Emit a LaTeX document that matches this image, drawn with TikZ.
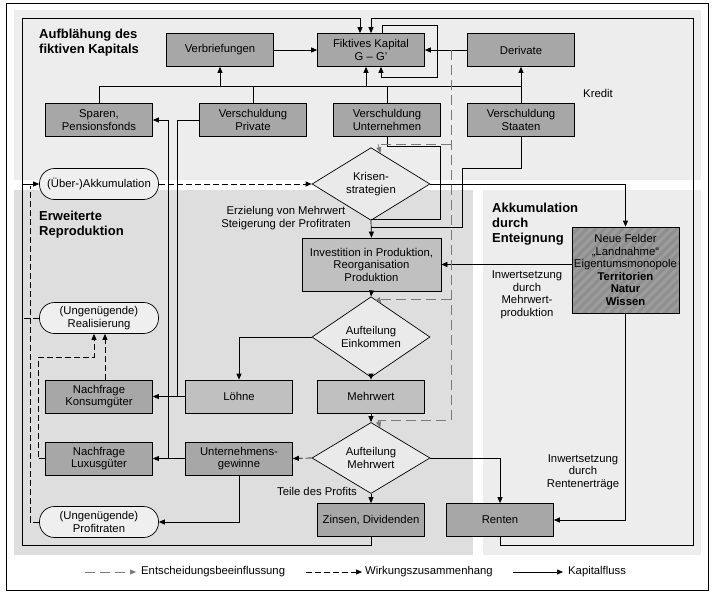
\documentclass[tikz,border=0pt]{standalone}
\usepackage{fontspec}
\setmainfont{Liberation Sans}
\usetikzlibrary{arrows.meta,shapes.geometric,calc}

\definecolor{boxdunkel}{HTML}{A7A7A7}
\definecolor{boxhell}{HTML}{C0C0C0}
\definecolor{felderfill}{HTML}{8E8E8E}
\definecolor{rautefill}{HTML}{EAEAEA}
\definecolor{rundfill}{HTML}{EFEFEF}
\definecolor{flaechehell}{HTML}{EDEDED}
\definecolor{flaechedunkel}{HTML}{DEDEDE}
\definecolor{strichgrau}{HTML}{7A7A7A}

\tikzset{
  kasten/.style={draw, line width=0.7pt, fill=boxdunkel, minimum width=107pt, minimum height=33pt, align=center, inner sep=1pt},
  kastenhell/.style={kasten, fill=boxhell},
  felder/.style={kasten, fill=felderfill, minimum height=86pt, path picture={
    \foreach \i in {-110,-101,...,110}
      \draw[white, opacity=0.13, line width=3pt] ($(path picture bounding box.south west)+(\i,0)$) -- ++(110,-110);
  }},
  raute/.style={diamond, draw, line width=0.7pt, fill=rautefill, minimum width=118pt, minimum height=53pt, inner sep=0pt, align=center},
  rund/.style={draw, line width=0.7pt, fill=rundfill, rounded corners=15pt, minimum width=119pt, minimum height=31pt, align=center, inner sep=1pt},
  fluss/.style={line width=0.7pt, -{Triangle[length=6pt,width=5pt]}},
  wirkung/.style={fluss, dash pattern=on 6pt off 3pt},
  wirklinie/.style={line width=0.7pt, dash pattern=on 6pt off 3pt},
  entsch/.style={line width=0.7pt, draw=strichgrau, dash pattern=on 10pt off 5pt, -{Triangle[length=6pt,width=5pt]}},
  entschlinie/.style={line width=0.7pt, draw=strichgrau, dash pattern=on 10pt off 5pt},
  entschspitze/.style={line width=0.7pt, draw=strichgrau, -{Triangle[length=6pt,width=5pt]}},
  titel/.style={font=\fontsize{13}{15}\selectfont\bfseries, align=left, anchor=west, inner sep=0pt},
  notiz/.style={align=center, inner sep=0pt}
}

\begin{document}
\begin{tikzpicture}[x=1pt, y=-1pt, font=\fontsize{11.3}{12.5}\selectfont]
\useasboundingbox (0,0) rectangle (718,597);

% Flaechen
\fill[flaechehell] (14,10) rectangle (701,180);
\fill[flaechedunkel] (14,190) rectangle (473,555);
\fill[flaechehell] (483,190) rectangle (701,555);
\draw[line width=0.7pt] (6,3) rectangle (708,590);

% Kaesten
\node[kasten] (verbr) at (220,50) {Verbriefungen};
\node[kasten] (fiktiv) at (371,50) {Fiktives Kapital\\G – G'};
\node[kasten] (deriv) at (521,50) {Derivate};
\node[kasten] (sparen) at (99,120) {Sparen,\\Pensionsfonds};
\node[kasten] (vprivat) at (253,120) {Verschuldung\\Private};
\node[kasten] (vunter) at (387,120) {Verschuldung\\Unternehmen};
\node[kasten] (vstaat) at (521,120) {Verschuldung\\Staaten};

\node[rund] (ueber) at (99,184) {(Über-)Akkumulation};
\node[raute] (krise) at (371,184) {Krisen-\\strategien};
\node[kastenhell, minimum width=139pt, minimum height=53pt] (invest) at (371.5,264.5) {Investition in Produktion,\\Reorganisation\\Produktion};
\node[felder] (neu) at (625.5,270) {Neue Felder\\„Landnahme“\\Eigentumsmonopole\\\textbf{Territorien}\\\textbf{Natur}\\\textbf{Wissen}};

\node[rund] (real) at (99,318) {(Ungenügende)\\Realisierung};
\node[raute] (einkommen) at (371,337) {Aufteilung\\Einkommen};
\node[kasten] (konsum) at (99,396.5) {Nachfrage\\Konsumgüter};
\node[kastenhell] (loehne) at (239,396.5) {Löhne};
\node[kastenhell] (mehrwert) at (371,396.5) {Mehrwert};
\node[kasten] (luxus) at (99,458.5) {Nachfrage\\Luxusgüter};
\node[kasten] (gewinne) at (239,458.5) {Unternehmens-\\gewinne};
\node[raute] (aufmw) at (371,458) {Aufteilung\\Mehrwert};
\node[rund] (profit) at (99,522) {(Ungenügende)\\Profitraten};
\node[kasten] (zinsen) at (371,520) {Zinsen, Dividenden};
\node[kasten] (renten) at (500,520) {Renten};

% Kredit und fiktives Kapital
\coordinate (k1) at (99,86);
\coordinate (k2) at (521,86);
\coordinate (fs1) at ($(fiktiv.south)+(-5,0)$);
\draw[fluss] (verbr) -- (fiktiv);
\draw[fluss] (deriv) -- (fiktiv);
\draw[line width=0.7pt] (sparen.north) -- (sparen.north |- k1) -- (k2);
\draw[line width=0.7pt] (vprivat.north) -- (vprivat.north |- k1);
\draw[line width=0.7pt] (vunter.north) -- (vunter.north |- k1);
\draw[fluss] (vstaat.north) -- (deriv.south);
\draw[fluss] (verbr.south |- k1) -- (verbr.south);
\draw[fluss] (fs1 |- k1) -- (fs1);
\draw[fluss] ($(fiktiv.north)+(11,0)$) -- ++(0,-8) -| (437,77) -| ($(fiktiv.south)+(10,0)$);

% Rueckfluss
\draw[fluss] (zinsen.south) -- ++(0,8) -| (22,18) -| ($(fiktiv.north)+(-11,0)$);
\draw[fluss] (renten.south) -- ++(0,8) -| (693,18) -| (fiktiv.north);
\draw[fluss] (22,184) -- (ueber.west);

% Krisenstrategien
\draw[wirkung] (ueber) -- (krise);
\draw[fluss] (krise.south) -- (invest.north);
\draw[line width=0.7pt] (vunter.south) -- ++(0,9) -| (440,219) -- (371,219);
\draw[line width=0.7pt] (vstaat.south) -- ++(0,31) -| (462,227) -- (371,227);
\draw[fluss] (krise.east) -| (neu.north);
\draw[fluss] (neu.west |- invest.east) -- (invest.east);
\draw[fluss] (neu.south) |- (renten.east);

% Entscheidungen
\coordinate (e1) at (378,144);
\coordinate (e2) at (378,299);
\coordinate (e3) at (378,420);
\draw[entschlinie] (451,50) -- (451,420) -- (e3);
\draw[entschlinie] (451,144) -- (e1);
\draw[entschlinie] (451,299) -- (e2);
\draw[entschspitze] (e1) -- (krise.73);
\draw[entschspitze] (e2) -- (einkommen.73);
\draw[entschspitze] (e3) -- (aufmw.73);

% Verteilung
\draw[fluss] (invest.south) -- (einkommen.north);
\draw[fluss] (einkommen.south) -- (mehrwert.north);
\draw[fluss] (einkommen.west) -| (loehne.north);
\draw[fluss] (mehrwert.south) -- (aufmw.north);
\draw[fluss] (aufmw.south) -- (zinsen.north);
\draw[fluss] (aufmw.east) -| (renten.north);
\draw[wirkung] (aufmw.west) -- (gewinne.east);

\draw[fluss] (loehne.west) -- (konsum.east);
\draw[line width=0.7pt] (vprivat.west) -- (177,120) -- (177,396.5);
\draw[fluss] (gewinne.west) -- (luxus.east);
\draw[fluss] (168,458.5) -- (168,120) -- (sparen.east);
\draw[fluss] (gewinne.south) |- (profit.east);

% Wirkungen links
\coordinate (rs) at ($(real.south)+(-5,0)$);
\draw[wirkung] ($(konsum.north)+(6,0)$) -- ($(real.south)+(6,0)$);
\draw[wirkung] (luxus.west) -- ++(-7,0) |- ($(rs)+(0,23)$) -- (rs);
\draw[wirklinie] (real.west) -- (22,318);
\draw[wirklinie] (profit.west) -| (30,186);

%Beschriftung
\node[titel] (t1) at (39,42.5) {Aufblähung des\\fiktiven Kapitals};
\node[titel] (t2) at (39,225) {Erweiterte\\Reproduktion};
\node[titel] (t3) at (492,224.5) {Akkumulation\\durch\\Enteignung};
\node[notiz] (kredit) at (598,93) {Kredit};
\node[notiz] (erz) at (286,218) {Erzielung von Mehrwert\\Steigerung der Profitraten};
\node[notiz] (inw1) at (527,295) {Inwertsetzung\\durch\\Mehrwert-\\produktion};
\node[notiz] (inw2) at (583,472) {Inwertsetzung\\durch\\Rentenerträge};
\node[notiz] (teile) at (317,491) {Teile des Profits};

% Legende
\coordinate (l1a) at (85,572);
\coordinate (l1b) at (136,572);
\coordinate (l2a) at (306,572);
\coordinate (l2b) at (362,572);
\coordinate (l3a) at (513,572);
\coordinate (l3b) at (563,572);
\draw[entsch] (l1a) -- (l1b);
\draw[wirkung] (l2a) -- (l2b);
\draw[fluss] (l3a) -- (l3b);
\node[anchor=west, inner sep=0pt] (l1) at (141,572) {Entscheidungsbeeinflussung};
\node[anchor=west, inner sep=0pt] (l2) at (365,572) {Wirkungszusammenhang};
\node[anchor=west, inner sep=0pt] (l3) at (568,572) {Kapitalfluss};

\end{tikzpicture}
\end{document}
